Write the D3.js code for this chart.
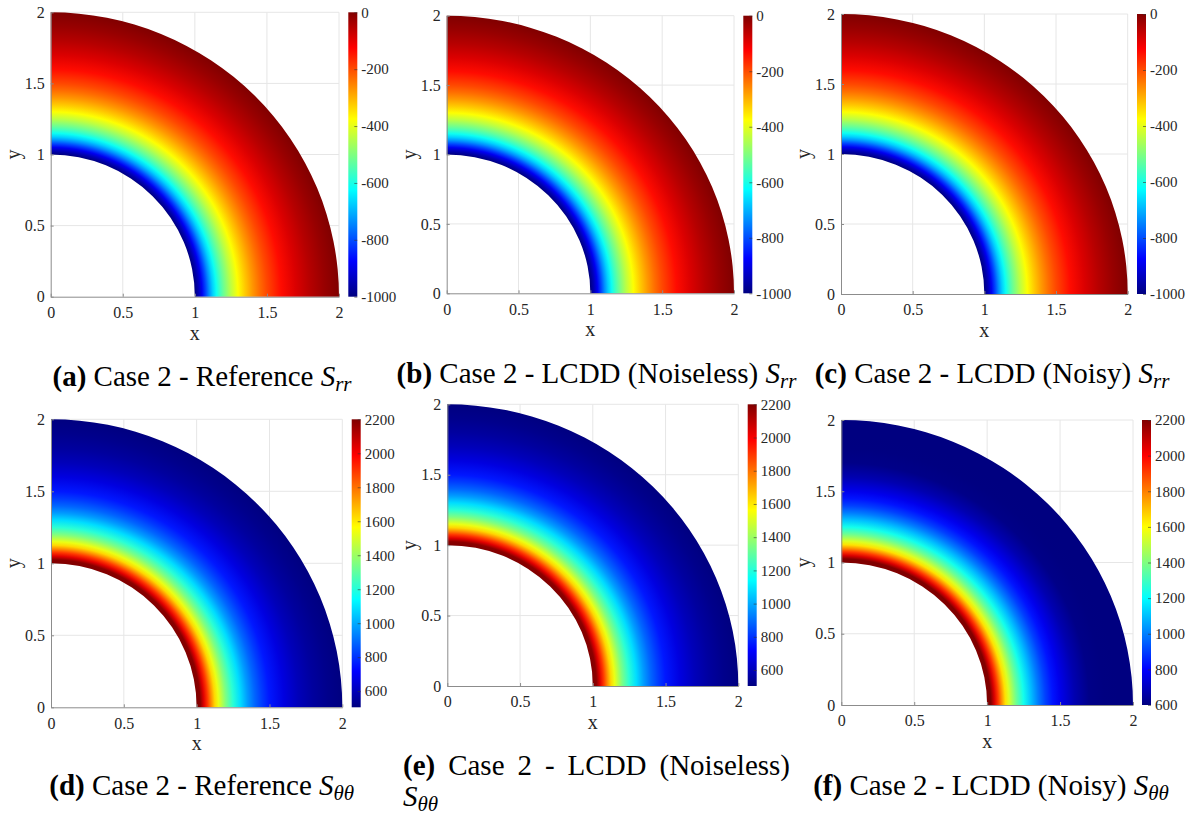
<!DOCTYPE html>
<html>
<head>
<meta charset="utf-8">
<script src="https://cdn.jsdelivr.net/npm/d3@7"></script>
<style>
  body { margin: 0; background: #fff; }
  svg, svg text { font-family: "Liberation Serif", "Times New Roman", serif; }
  svg { display: block; }
</style>
</head>
<body>
<svg id="fig" width="1192" height="819" font-family="'Liberation Serif', 'Times New Roman', serif"></svg>
<script>
// ---- data -------------------------------------------------------------
// radial sample positions shared by all six stress fields (inner r = 1, outer r = 2)
const radii = [1.000, 1.025, 1.050, 1.075, 1.100, 1.125, 1.150, 1.175, 1.200,
               1.25, 1.30, 1.35, 1.40, 1.45, 1.50, 1.60, 1.70, 1.80, 1.90, 2.00];

// radial stress S_rr along the radius
const srrReference = [-1000, -950, -890, -810, -735, -670, -612, -562, -519,
                      -442, -377, -322, -274, -232, -196, -136, -90, -53, -24, 0];
const srrNoiseless = [-1000, -950, -890, -810, -735, -670, -612, -562, -519,
                      -442, -377, -322, -274, -232, -196, -136, -90, -53, -24, 0];
const srrNoisy     = [-1000, -951, -891, -811, -735, -670, -612, -562, -519,
                      -442, -377, -322, -274, -232, -196, -136, -90, -53, -24, 0];

// hoop stress S_theta_theta along the radius
const sttReference = [2330, 2185, 2040, 1900, 1760, 1630, 1530, 1440, 1352,
                      1210, 1085, 975, 885, 815, 755, 665, 600, 555, 525, 505];
const sttNoiseless = [2325, 2180, 2040, 1900, 1760, 1630, 1530, 1440, 1350,
                      1210, 1085, 975, 885, 815, 755, 665, 600, 555, 524, 504];
const sttNoisy     = [2340, 2200, 2060, 1915, 1775, 1645, 1545, 1455, 1370,
                      1230, 1105, 995, 900, 830, 770, 675, 612, 602, 600, 600];

// colour limits of each colorbar
const srrRange          = [-1000, 0];
const sttRangeReference = [505, 2200];
const sttRangeNoiseless = [504, 2200];
const sttRangeNoisy     = [600, 2200];

// tick values
const axisTicks   = [0, 0.5, 1, 1.5, 2];
const srrBarTicks = [-1000, -800, -600, -400, -200, 0];
const sttBarTicks = [600, 800, 1000, 1200, 1400, 1600, 1800, 2000, 2200];

// caption texts
const captionTags  = ["(a)", "(b)", "(c)", "(d)", "(e)", "(f)"];
const captionWords = ["Case 2 - Reference", "Case 2 - LCDD (Noiseless)", "Case 2 - LCDD (Noisy)",
                      "Case 2 - Reference", "Case 2 - LCDD (Noiseless)", "Case 2 - LCDD (Noisy)"];
const captionSubs  = ["rr", "rr", "rr", "θθ", "θθ", "θθ"];

// jet colormap breakpoints
const jetStops  = [0, 0.125, 0.375, 0.625, 0.875, 1];
const jetColors = ["#000080", "#0000ff", "#00ffff", "#ffff00", "#ff0000", "#800000"];

// ---- layout -------------------------------------------------------------
const panels = [
  { values: srrReference, range: srrRange,          bar: srrBarTicks,
    x0: 50.7,  x1: 339,    yb: 296.7, yt: 12.3,  cb: 348.3, cap: { cx: 202,   base: 386 } },
  { values: srrNoiseless, range: srrRange,          bar: srrBarTicks,
    x0: 446.7, x1: 734,    yb: 293.3, yt: 15.7,  cb: 743.3, cap: { cx: 596.5, base: 383 } },
  { values: srrNoisy,     range: srrRange,          bar: srrBarTicks,
    x0: 841,   x1: 1127.7, yb: 294,   yt: 14,    cb: 1137,  cap: { cx: 992,   base: 383 } },
  { values: sttReference, range: sttRangeReference, bar: sttBarTicks,
    x0: 51,    x1: 342.3,  yb: 707.3, yt: 419.3, cb: 351.7, cap: { cx: 201.7, base: 795 } },
  { values: sttNoiseless, range: sttRangeNoiseless, bar: sttBarTicks,
    x0: 447.3, x1: 738.3,  yb: 686,   yt: 404.3, cb: 747.7, cap: { left: 403, right: 790, base: 775, base2: 806 } },
  { values: sttNoisy,     range: sttRangeNoisy,     bar: sttBarTicks,
    x0: 841.3, x1: 1133,   yb: 705,   yt: 420,   cb: 1142,  cap: { cx: 991,   base: 795 } }
];

const FONT = "'Liberation Serif', 'Times New Roman', serif";
const BAR_W = 9;
const TEXT = "#262626";
const AXIS = "#8c8c8c";
const GRID = "#e6e6e6";
const CAP_SIZE = 29, SUB_SIZE = 21;

const svg  = d3.select("#fig");
const defs = svg.append("defs");
const jet  = d3.scaleLinear().domain(jetStops).range(jetColors).clamp(true);

panels.forEach((p, i) => {
  const x = d3.scaleLinear().domain([0, 2]).range([p.x0, p.x1]);
  const y = d3.scaleLinear().domain([0, 2]).range([p.yb, p.yt]);
  const norm = d3.scaleLinear().domain(p.range).range([0, 1]).clamp(true);
  const color = v => jet(norm(v));
  const g = svg.append("g").attr("font-family", FONT);

  // grid
  const grid = g.append("g").attr("stroke", GRID).attr("stroke-width", 1);
  grid.selectAll("line.v").data(axisTicks.slice(1)).join("line").attr("class", "v")
    .attr("x1", d => x(d)).attr("x2", d => x(d)).attr("y1", y(0)).attr("y2", y(2));
  grid.selectAll("line.h").data(axisTicks.slice(1)).join("line").attr("class", "h")
    .attr("y1", d => y(d)).attr("y2", d => y(d)).attr("x1", x(0)).attr("x2", x(2));

  // stress field on the quarter annulus
  const rIn = radii[0], rOut = radii[radii.length - 1];
  const gid = "field" + i;
  const grad = defs.append("radialGradient").attr("id", gid)
    .attr("gradientUnits", "userSpaceOnUse")
    .attr("cx", 0).attr("cy", 0).attr("fx", 0).attr("fy", 0).attr("r", rOut);
  grad.selectAll("stop").data(radii).join("stop")
    .attr("offset", r => r / rOut)
    .attr("stop-color", (r, j) => color(p.values[j]));
  const kx = x(1) - x(0), ky = y(0) - y(1);
  g.append("path")
    .attr("transform", `translate(${x(0)},${y(0)}) scale(${kx},${ky})`)
    .attr("d", d3.arc()({ innerRadius: rIn, outerRadius: rOut, startAngle: 0, endAngle: Math.PI / 2 }))
    .attr("fill", `url(#${gid})`);

  // axes
  const fmt = d => String(d);
  const ax = g.append("g").attr("transform", `translate(0,${y(0)})`)
    .call(d3.axisBottom(x).tickValues(axisTicks).tickFormat(fmt).tickSizeInner(-3).tickSizeOuter(0).tickPadding(10));
  const ay = g.append("g").attr("transform", `translate(${x(0)},0)`)
    .call(d3.axisLeft(y).tickValues(axisTicks).tickFormat(fmt).tickSizeInner(-3).tickSizeOuter(0).tickPadding(6));
  [ax, ay].forEach(a => {
    a.attr("font-family", FONT).attr("font-size", 16);
    a.select(".domain").attr("stroke", AXIS);
    a.selectAll(".tick line").attr("stroke", AXIS);
    a.selectAll(".tick text").attr("fill", TEXT);
  });

  g.append("text").attr("x", x(1)).attr("y", y(0) + 43)
    .attr("text-anchor", "middle").attr("font-size", 20).attr("fill", TEXT).text("x");
  g.append("text").attr("transform", `translate(${x(0) - 31},${y(1)}) rotate(-90)`)
    .attr("text-anchor", "middle").attr("font-size", 20).attr("fill", TEXT).text("y");

  // colorbar
  const c = d3.scaleLinear().domain(p.range).range([p.yb, p.yt]);
  const bid = "bar" + i;
  const lg = defs.append("linearGradient").attr("id", bid)
    .attr("x1", 0).attr("y1", 1).attr("x2", 0).attr("y2", 0);
  lg.selectAll("stop").data(jetStops).join("stop")
    .attr("offset", d => d).attr("stop-color", (d, j) => jetColors[j]);
  g.append("rect").attr("x", p.cb).attr("y", c(p.range[1]))
    .attr("width", BAR_W).attr("height", c(p.range[0]) - c(p.range[1]))
    .attr("fill", `url(#${bid})`);
  const ac = g.append("g").attr("transform", `translate(${p.cb + BAR_W},0)`)
    .call(d3.axisRight(c).tickValues(p.bar).tickFormat(fmt).tickSizeInner(-3).tickSizeOuter(0).tickPadding(4));
  ac.attr("font-family", FONT).attr("font-size", 15);
  ac.select(".domain").remove();
  ac.selectAll(".tick line").attr("stroke", "#333").attr("stroke-opacity", 0.6);
  ac.selectAll(".tick text").attr("fill", TEXT);

  // caption
  const cp = p.cap;
  if (cp.cx !== undefined) {
    const t = g.append("text").attr("x", cp.cx).attr("y", cp.base)
      .attr("text-anchor", "middle").attr("font-size", CAP_SIZE).attr("fill", "#000");
    t.append("tspan").attr("font-weight", "bold").text(captionTags[i]);
    t.append("tspan").text(" " + captionWords[i] + " ");
    t.append("tspan").attr("font-style", "italic").text("S");
    t.append("tspan").attr("font-style", "italic").attr("font-size", SUB_SIZE).attr("dy", 5).text(captionSubs[i]);
  } else {
    // justified first line, symbol on the second line
    const words = [captionTags[i]].concat(captionWords[i].split(" "));
    const nodes = words.map((w, k) => g.append("text").attr("y", cp.base)
      .attr("font-size", CAP_SIZE).attr("fill", "#000")
      .attr("font-weight", k === 0 ? "bold" : null).text(w));
    const widths = nodes.map(n => n.node().getComputedTextLength());
    const gap = (cp.right - cp.left - d3.sum(widths)) / (words.length - 1);
    let xx = cp.left;
    nodes.forEach((n, k) => { n.attr("x", xx); xx += widths[k] + gap; });
    const t2 = g.append("text").attr("x", cp.left).attr("y", cp.base2)
      .attr("font-size", CAP_SIZE).attr("fill", "#000");
    t2.append("tspan").attr("font-style", "italic").text("S");
    t2.append("tspan").attr("font-style", "italic").attr("font-size", SUB_SIZE).attr("dy", 5).text(captionSubs[i]);
  }
});
</script>
</body>
</html>
